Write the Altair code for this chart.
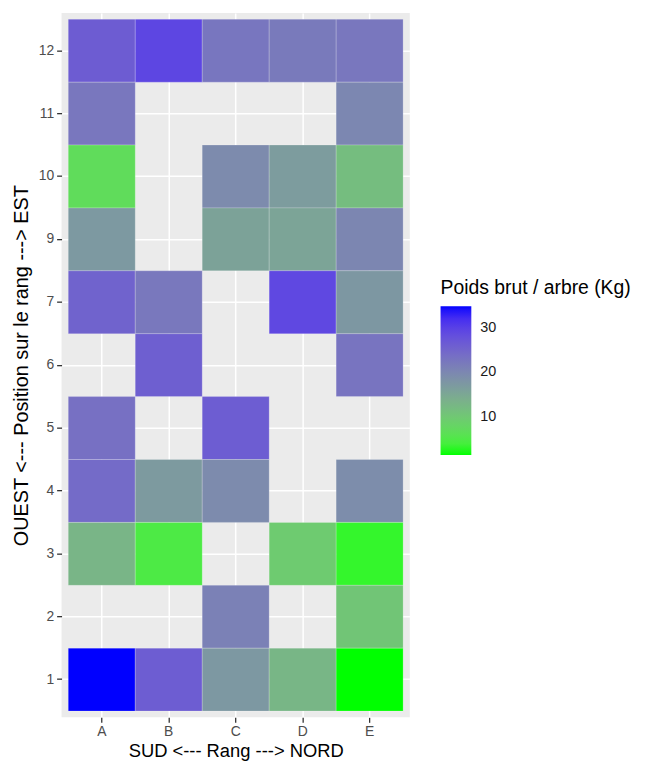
import altair as alt
import pandas as pd

rangs = ["A", "B", "C", "D", "E"]
positions = ["12", "11", "10", "9", "7", "6", "5", "4", "3", "2", "1"]

# value per (position) row, listed for A..E (None = no tree)
row_12 = [26.3, 29.3, 22.6, 22.0, 22.5]
row_11 = [22.5, None, None, None, 20.0]
row_10 = [6.9, None, 19.4, 16.8, 11.6]
row_9 = [17.3, None, 15.8, 15.5, 20.1]
row_7 = [25.3, 22.3, None, 29.0, 17.5]
row_6 = [None, 25.9, None, None, 22.9]
row_5 = [23.4, None, 26.2, None, None]
row_4 = [24.2, 17.0, 19.4, None, 19.0]
row_3 = [12.9, 4.7, None, 9.5, 2.9]
row_2 = [None, None, 20.9, None, 10.4]
row_1 = [34.8, 26.2, 17.4, 12.8, 1.5]

rows = [row_12, row_11, row_10, row_9, row_7, row_6, row_5, row_4, row_3, row_2, row_1]

records = []
for pos, vals in zip(positions, rows):
    for r, v in zip(rangs, vals):
        if v is not None:
            records.append({"rang": r, "position": pos, "poids": v})
df = pd.DataFrame(records)

# --- ggplot-like green -> blue gradient interpolated in CIELAB (D65) ---
WN = (0.95047, 1.0, 1.08883)


def _lin(c):
    c = c / 255.0
    return c / 12.92 if c <= 0.04045 else ((c + 0.055) / 1.055) ** 2.4


def _gam(c):
    c = 12.92 * c if c <= 0.0031308 else 1.055 * c ** (1 / 2.4) - 0.055
    return min(255, max(0, round(c * 255)))


def _f(t):
    d = 6 / 29
    return t ** (1 / 3) if t > d ** 3 else t / (3 * d * d) + 4 / 29


def _finv(t):
    d = 6 / 29
    return t ** 3 if t > d else 3 * d * d * (t - 4 / 29)


def to_lab(hexc):
    r, g, b = (_lin(int(hexc[i:i + 2], 16)) for i in (1, 3, 5))
    x = 0.4124564 * r + 0.3575761 * g + 0.1804375 * b
    y = 0.2126729 * r + 0.7151522 * g + 0.0721750 * b
    z = 0.0193339 * r + 0.1191920 * g + 0.9503041 * b
    fx, fy, fz = _f(x / WN[0]), _f(y / WN[1]), _f(z / WN[2])
    return 116 * fy - 16, 500 * (fx - fy), 200 * (fy - fz)


def from_lab(L, a, b):
    fy = (L + 16) / 116
    fx, fz = fy + a / 500, fy - b / 200
    x, y, z = WN[0] * _finv(fx), WN[1] * _finv(fy), WN[2] * _finv(fz)
    r = 3.2404542 * x - 1.5371385 * y - 0.4985314 * z
    g = -0.9692660 * x + 1.8760108 * y + 0.0415560 * z
    bb = 0.0556434 * x - 0.2040259 * y + 1.0572252 * z
    return "#%02x%02x%02x" % (_gam(r), _gam(g), _gam(bb))


low, high = to_lab("#00ff00"), to_lab("#0000ff")
n_stops = 25
vmin, vmax = float(df["poids"].min()), float(df["poids"].max())
stops_dom = [vmin + i * (vmax - vmin) / (n_stops - 1) for i in range(n_stops)]
stops_col = [from_lab(*[lo + (hi - lo) * i / (n_stops - 1) for lo, hi in zip(low, high)])
             for i in range(n_stops)]

font = "Liberation Sans"

chart = alt.Chart(df).mark_rect(stroke="white", strokeWidth=0.5, strokeOpacity=0.4).encode(
    x=alt.X("rang:N", sort=rangs,
            scale=alt.Scale(paddingInner=0, paddingOuter=0.1),
            axis=alt.Axis(title="SUD <--- Rang ---> NORD", labelAngle=0, bandPosition=0.5,
                          labelPadding=2, titleBaseline="alphabetic", titleY=39,
                          titleFontSize=18.5)),
    y=alt.Y("position:N", sort=positions,
            scale=alt.Scale(paddingInner=0, paddingOuter=0.1),
            axis=alt.Axis(title="OUEST <--- Position sur le rang ---> EST", bandPosition=0.5,
                          labelPadding=3, titlePadding=7)),
    color=alt.Color("poids:Q",
                    scale=alt.Scale(domain=stops_dom, range=stops_col, interpolate="rgb"),
                    legend=alt.Legend(title="Poids brut / arbre (Kg)", values=[10, 20, 30],
                                      orient="none", legendX=382, legendY=268,
                                      gradientLength=150, gradientThickness=31,
                                      gradientStrokeWidth=0, titleFontSize=19.5,
                                      titleFontWeight="normal", titleColor="black",
                                      titleFont=font, labelFont=font, labelFontSize=14.5,
                                      labelColor="#1a1a1a", titlePadding=8,
                                      labelOffset=9, titleLimit=300)),
).properties(
    width=351, height=710,
    padding={"left": 54, "top": 2, "right": 229, "bottom": 43},
    autosize=alt.AutoSizeParams(type="none"),
).configure_view(
    fill="#EBEBEB", stroke=None
).configure_axis(
    grid=True, gridColor="white", gridWidth=1.5, domain=False, zindex=0,
    tickColor="#333333", tickSize=5, tickWidth=1.3,
    labelFont=font, labelFontSize=14, labelColor="#4D4D4D",
    titleFont=font, titleFontSize=20, titleFontWeight="normal", titleColor="black",
)

chart.save("out.html", embed_options={"renderer": "svg", "actions": False})
